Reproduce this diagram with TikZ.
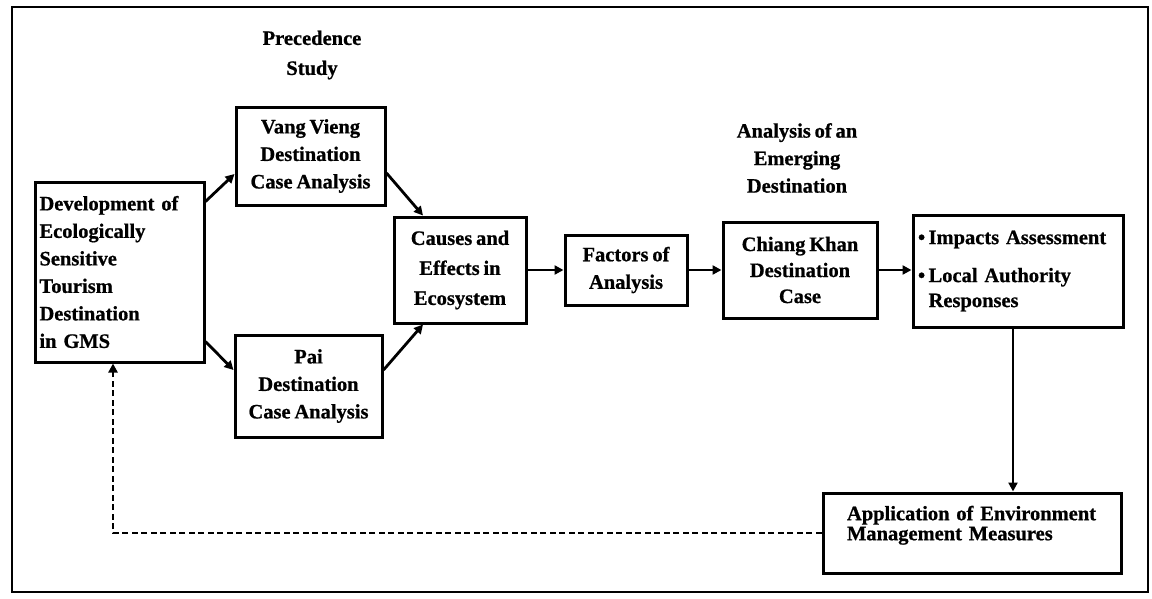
\documentclass[tikz,border=0pt]{standalone}
\usepackage{fontspec}
\setmainfont{Liberation Serif}[WordSpace=0.75, BoldFeatures={FakeBold=0.8}]
\usetikzlibrary{arrows.meta}
\begin{document}
\begin{tikzpicture}[x=1pt,y=-1pt,
  txt/.style={font=\fontsize{20.5}{27.5}\selectfont\bfseries, inner sep=0pt},
  box/.style={txt, draw, line width=3pt, align=center},
  arr/.style={line width=2.8pt, -{Triangle[length=9pt,width=9pt]}},
  dashline/.style={arr, dash pattern=on 6pt off 3.5pt}]
\useasboundingbox (0,0) rectangle (1152,598);
\draw[line width=2.6pt] (12,7) rectangle (1148,592);

% stage headings
\node[txt, align=center, font=\fontsize{20.5}{30}\selectfont\bfseries] (head1) at (312,55) {Precedence\\Study};
\node[txt, align=center] (head2) at (797,158) {Analysis of an\\Emerging\\Destination};

% boxes
\node[box, align=left, text width=160pt, minimum width=169pt, minimum height=180pt] (dev) at (119.5,272)
  {Development of\\Ecologically\\Sensitive\\Tourism\\Destination\\in GMS};
\node[box, minimum width=149pt, minimum height=98pt] (vang) at (310.5,156)
  {Vang Vieng\\Destination\\Case Analysis};
\node[box, minimum width=147pt, minimum height=102pt] (pai) at (308.5,386)
  {Pai\\Destination\\Case Analysis};
\node[box, font=\fontsize{20.5}{30}\selectfont\bfseries, minimum width=132pt, minimum height=106pt] (causes) at (460,270)
  {Causes and\\Effects in\\Ecosystem};
\node[box, minimum width=122pt, minimum height=70pt] (factors) at (626,270)
  {Factors of\\Analysis};
\node[box, font=\fontsize{20.5}{26}\selectfont\bfseries, minimum width=154pt, minimum height=96pt] (chiang) at (800,270)
  {Chiang Khan\\Destination\\Case};
\node[box, font=\fontsize{20.5}{25}\selectfont\bfseries, align=left, text width=200pt, minimum width=210pt, minimum height=112pt] (impacts) at (1018,271)
  {\textbullet\,Impacts Assessment\\[13pt]\textbullet\,Local Authority\\\hphantom{\textbullet\,}Responses};
\node[box, font=\fontsize{20.5}{20}\selectfont\bfseries, align=left, text width=250pt, minimum width=298pt, minimum height=80pt] (app) at (972,533)
  {Application of Environment\\Management Measures\\\mbox{}};

% connectors
\draw[arr] ([yshift=-21pt]dev.north east) -- ([yshift=-18pt]vang.west);
\draw[arr] ([yshift=22pt]dev.south east) -- ([yshift=16pt]pai.west);
\draw[arr] ([yshift=-17pt]vang.east) -- ([xshift=-37pt]causes.north);
\draw[arr] ([yshift=16pt]pai.east) -- ([xshift=-37pt]causes.south);
\draw[arr] (causes.east) -- (factors.west);
\draw[arr] (factors.east) -- (chiang.west);
\draw[arr] (chiang.east) -- (chiang.east -| impacts.west);
\draw[arr] ([xshift=-5pt]impacts.south) -- ([xshift=-5pt]impacts.south |- app.north);
\draw[dashline] (app.west) -| ([xshift=-6.5pt]dev.south);
\end{tikzpicture}
\end{document}
